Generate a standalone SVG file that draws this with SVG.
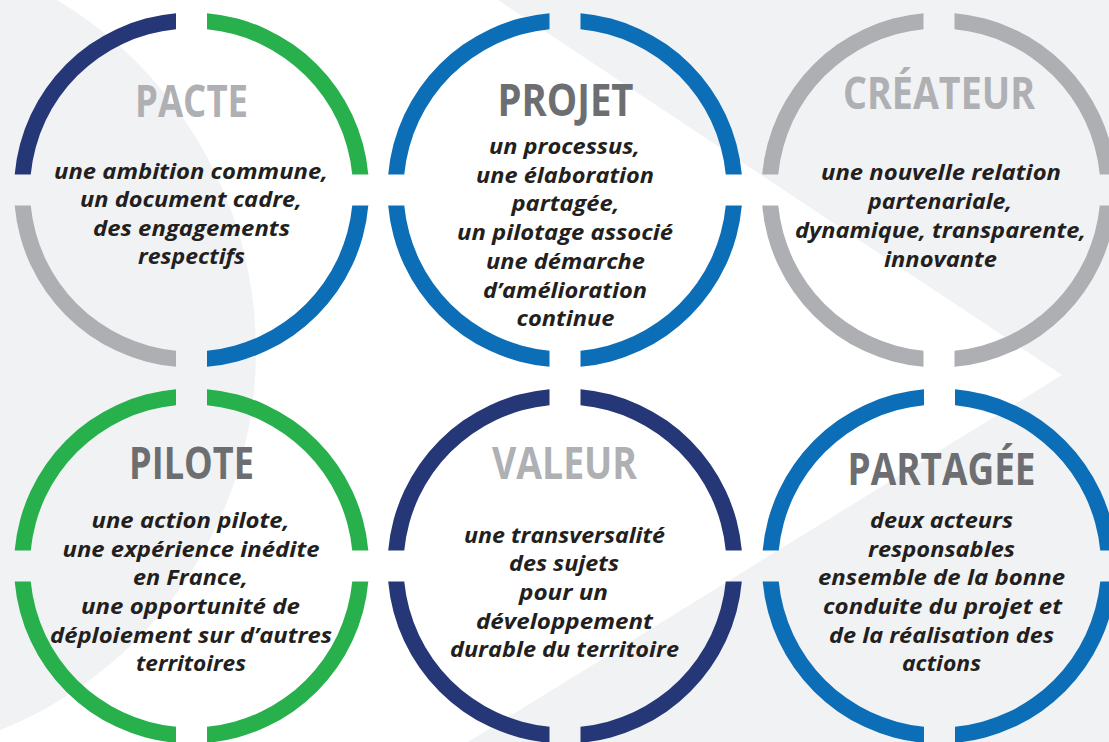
<svg xmlns="http://www.w3.org/2000/svg" width="1109" height="742" viewBox="0 0 1109 742">
<style>
.navy{fill:#253776}
.green{fill:#27B04B}
.blue{fill:#0D6EB8}
.gray{fill:#ADAFB2}
.title{font-family:"Open Sans","Noto Sans","DejaVu Sans",sans-serif;font-weight:700;font-size:45px;text-anchor:middle}
.t-light{fill:#AEB0B3}
.t-dark{fill:#6D6E71}
.body{font-family:"Open Sans","Noto Sans","DejaVu Sans",sans-serif;font-weight:700;font-style:italic;font-size:22px;fill:#231F20;text-anchor:middle}
</style>
<defs>
<path id="q-tr" d="M15.5,-176.82 A177.5,177.5 0 0 1 176.82,-15.5 L160.75,-15.5 A161.5,161.5 0 0 0 15.5,-160.75 Z"/>
<path id="q-br" d="M176.82,15.5 A177.5,177.5 0 0 1 15.5,176.82 L15.5,160.75 A161.5,161.5 0 0 0 160.75,15.5 Z"/>
<path id="q-bl" d="M-15.5,176.82 A177.5,177.5 0 0 1 -176.82,15.5 L-160.75,15.5 A161.5,161.5 0 0 0 -15.5,160.75 Z"/>
<path id="q-tl" d="M-176.82,-15.5 A177.5,177.5 0 0 1 -15.5,-176.82 L-15.5,-160.75 A161.5,161.5 0 0 0 -160.75,-15.5 Z"/>
</defs>
<g id="background">
<rect x="0" y="0" width="1109" height="742" fill="#F1F2F4"/>
<polygon points="0,0 498,0 1062,375 468,742 0,742" fill="#FFFFFF"/>
<circle cx="-153" cy="351" r="409" fill="#F1F2F4"/>
</g>
<g id="node-pacte">
<use href="#q-tl" class="navy" transform="translate(191.5,190)"/>
<use href="#q-tr" class="green" transform="translate(191.5,190)"/>
<use href="#q-bl" class="gray" transform="translate(191.5,190)"/>
<use href="#q-br" class="blue" transform="translate(191.5,190)"/>
<text class="title t-light" x="191.5" y="117" textLength="113" lengthAdjust="spacingAndGlyphs">PACTE</text>
<text class="body" x="191" y="179" textLength="274" lengthAdjust="spacingAndGlyphs">une ambition commune,</text>
<text class="body" x="191" y="207" textLength="222" lengthAdjust="spacingAndGlyphs">un document cadre,</text>
<text class="body" x="191.5" y="236" textLength="197" lengthAdjust="spacingAndGlyphs">des engagements</text>
<text class="body" x="191.5" y="264" textLength="107" lengthAdjust="spacingAndGlyphs">respectifs</text>
</g>
<g id="node-projet">
<use href="#q-tl" class="blue" transform="translate(565,190)"/>
<use href="#q-tr" class="blue" transform="translate(565,190)"/>
<use href="#q-bl" class="blue" transform="translate(565,190)"/>
<use href="#q-br" class="blue" transform="translate(565,190)"/>
<text class="title t-dark" x="565.5" y="116" textLength="136" lengthAdjust="spacingAndGlyphs">PROJET</text>
<text class="body" x="564.5" y="154" textLength="151" lengthAdjust="spacingAndGlyphs">un processus,</text>
<text class="body" x="565" y="183" textLength="178" lengthAdjust="spacingAndGlyphs">une élaboration</text>
<text class="body" x="565.5" y="211" textLength="108" lengthAdjust="spacingAndGlyphs">partagée,</text>
<text class="body" x="565" y="240" textLength="216" lengthAdjust="spacingAndGlyphs">un pilotage associé</text>
<text class="body" x="565.5" y="269" textLength="159" lengthAdjust="spacingAndGlyphs">une démarche</text>
<text class="body" x="565" y="298" textLength="164" lengthAdjust="spacingAndGlyphs">d’amélioration</text>
<text class="body" x="565.5" y="326" textLength="98" lengthAdjust="spacingAndGlyphs">continue</text>
</g>
<g id="node-createur">
<use href="#q-tl" class="gray" transform="translate(939,190)"/>
<use href="#q-tr" class="gray" transform="translate(939,190)"/>
<use href="#q-bl" class="gray" transform="translate(939,190)"/>
<use href="#q-br" class="gray" transform="translate(939,190)"/>
<text class="title t-light" x="939" y="109" textLength="192" lengthAdjust="spacingAndGlyphs">CRÉATEUR</text>
<text class="body" x="941" y="180" textLength="240" lengthAdjust="spacingAndGlyphs">une nouvelle relation</text>
<text class="body" x="940" y="209" textLength="144" lengthAdjust="spacingAndGlyphs">partenariale,</text>
<text class="body" x="940.5" y="238" textLength="291" lengthAdjust="spacingAndGlyphs">dynamique, transparente,</text>
<text class="body" x="940.5" y="267" textLength="113" lengthAdjust="spacingAndGlyphs">innovante</text>
</g>
<g id="node-pilote">
<use href="#q-tl" class="green" transform="translate(191.5,566)"/>
<use href="#q-tr" class="green" transform="translate(191.5,566)"/>
<use href="#q-bl" class="green" transform="translate(191.5,566)"/>
<use href="#q-br" class="green" transform="translate(191.5,566)"/>
<text class="title t-dark" x="191.5" y="479" textLength="125" lengthAdjust="spacingAndGlyphs">PILOTE</text>
<text class="body" x="190.5" y="528" textLength="198" lengthAdjust="spacingAndGlyphs">une action pilote,</text>
<text class="body" x="191" y="557" textLength="257" lengthAdjust="spacingAndGlyphs">une expérience inédite</text>
<text class="body" x="190.5" y="585" textLength="115" lengthAdjust="spacingAndGlyphs">en France,</text>
<text class="body" x="190.5" y="614" textLength="219" lengthAdjust="spacingAndGlyphs">une opportunité de</text>
<text class="body" x="191" y="643" textLength="282" lengthAdjust="spacingAndGlyphs">déploiement sur d’autres</text>
<text class="body" x="191" y="671" textLength="110" lengthAdjust="spacingAndGlyphs">territoires</text>
</g>
<g id="node-valeur">
<use href="#q-tl" class="navy" transform="translate(565,566)"/>
<use href="#q-tr" class="navy" transform="translate(565,566)"/>
<use href="#q-bl" class="navy" transform="translate(565,566)"/>
<use href="#q-br" class="navy" transform="translate(565,566)"/>
<text class="title t-light" x="564.5" y="479" textLength="145" lengthAdjust="spacingAndGlyphs">VALEUR</text>
<text class="body" x="564.5" y="543" textLength="201" lengthAdjust="spacingAndGlyphs">une transversalité</text>
<text class="body" x="564" y="571" textLength="110" lengthAdjust="spacingAndGlyphs">des sujets</text>
<text class="body" x="563.5" y="600" textLength="89" lengthAdjust="spacingAndGlyphs">pour un</text>
<text class="body" x="564.5" y="629" textLength="177" lengthAdjust="spacingAndGlyphs">développement</text>
<text class="body" x="564.5" y="657" textLength="229" lengthAdjust="spacingAndGlyphs">durable du territoire</text>
</g>
<g id="node-partagee">
<use href="#q-tl" class="blue" transform="translate(939.5,566)"/>
<use href="#q-tr" class="blue" transform="translate(939.5,566)"/>
<use href="#q-bl" class="blue" transform="translate(939.5,566)"/>
<use href="#q-br" class="blue" transform="translate(939.5,566)"/>
<text class="title t-dark" x="941.5" y="485" textLength="188" lengthAdjust="spacingAndGlyphs">PARTAGÉE</text>
<text class="body" x="941.5" y="528" textLength="143" lengthAdjust="spacingAndGlyphs">deux acteurs</text>
<text class="body" x="941.5" y="557" textLength="147" lengthAdjust="spacingAndGlyphs">responsables</text>
<text class="body" x="941.5" y="585" textLength="247" lengthAdjust="spacingAndGlyphs">ensemble de la bonne</text>
<text class="body" x="942.5" y="614" textLength="239" lengthAdjust="spacingAndGlyphs">conduite du projet et</text>
<text class="body" x="941.5" y="643" textLength="225" lengthAdjust="spacingAndGlyphs">de la réalisation des</text>
<text class="body" x="941.5" y="671" textLength="79" lengthAdjust="spacingAndGlyphs">actions</text>
</g>
<g id="connectors"/>
</svg>
